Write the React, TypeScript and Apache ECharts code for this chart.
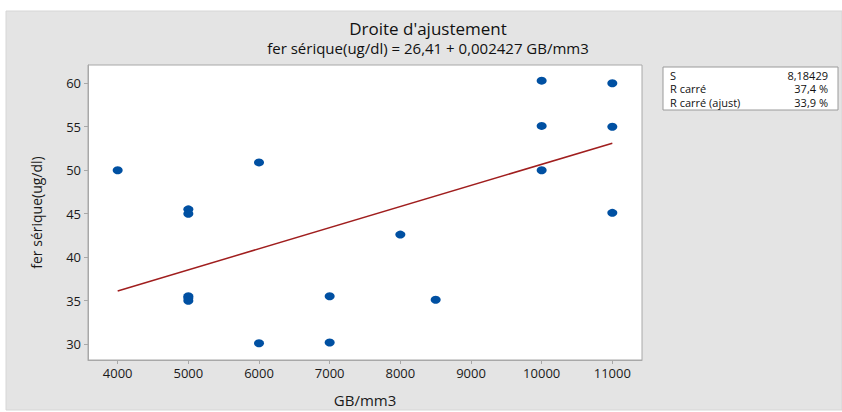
import React, { useEffect, useRef } from "react";
import * as echarts from "echarts";

const gbValues = [4000, 5000, 5000, 5000, 5000, 5000, 6000, 6000, 7000, 7000, 8000, 8500, 10000, 10000, 10000, 11000, 11000, 11000];
const ferValues = [50.0, 45.5, 45.0, 35.5, 35.3, 35.0, 50.9, 30.1, 35.5, 30.2, 42.6, 35.1, 60.3, 55.1, 50.0, 60.0, 55.0, 45.1];
const xTicks = [4000, 5000, 6000, 7000, 8000, 9000, 10000, 11000];
const yTicks = [30, 35, 40, 45, 50, 55, 60];
const intercept = 26.41;
const slope = 0.002427;
const fitRangeX = [4000, 11000];
const statLabels = ["S", "R carré", "R carré (ajust)"];
const statValues = ["8,18429", "37,4 %", "33,9 %"];
const titleText = "Droite d'ajustement";
const subtitleText = "fer sérique(ug/dl) = 26,41 + 0,002427 GB/mm3";

const FONT = "'Open Sans', 'Noto Sans', sans-serif";

export default function App() {
  const ref = useRef<HTMLDivElement>(null);
  useEffect(() => {
    if (!ref.current) return;
    const chart = echarts.init(ref.current, undefined, { renderer: "svg" });
    const points = gbValues.map((x, i) => [x, ferValues[i]]);
    const fitLine = fitRangeX.map((x) => [x, intercept + slope * x]);
    const statTexts: any[] = [];
    statLabels.forEach((l, i) => {
      statTexts.push({
        type: "text",
        x: 670,
        y: 75 + i * 13.5,
        style: { text: l, fontFamily: FONT, fontSize: 11, lineHeight: 12, fill: "#111", verticalAlign: "middle", align: "left" },
        z: 20,
      });
      statTexts.push({
        type: "text",
        x: 828,
        y: 75 + i * 13.5,
        style: { text: statValues[i], fontFamily: FONT, fontSize: 11, lineHeight: 12, fill: "#111", verticalAlign: "middle", align: "right" },
        z: 20,
      });
    });
    chart.setOption({
      animation: false,
      textStyle: { fontFamily: FONT },
      graphic: [
        { type: "rect", shape: { x: 6, y: 11, width: 836, height: 399 }, style: { fill: "#e4e4e4", stroke: "#d6d6d6", lineWidth: 1 }, z: -10, silent: true },
        { type: "text", x: 428, y: 28.5, style: { text: titleText, fontFamily: FONT, fontSize: 17, lineHeight: 17, fontWeight: 500, fill: "#111", align: "center", verticalAlign: "middle" }, z: 20 },
        { type: "text", x: 428, y: 48, style: { text: subtitleText, fontFamily: FONT, fontSize: 15, lineHeight: 15, fill: "#111", align: "center", verticalAlign: "middle" }, z: 20 },
        { type: "rect", shape: { x: 663, y: 67, width: 175, height: 43 }, style: { fill: "#fff", stroke: "#9a9a9a", lineWidth: 1 }, z: 10 },
        ...statTexts,
      ],
      grid: {
        left: 88,
        right: 200,
        top: 65,
        bottom: 49,
        containLabel: false,
        show: true,
        backgroundColor: "#ffffff",
        borderColor: "#a8a8a8",
        borderWidth: 1,
      },
      xAxis: {
        type: "value",
        min: 3580,
        max: 11420,
        name: "GB/mm3",
        nameLocation: "middle",
        nameGap: 32,
        nameTextStyle: { fontSize: 15, color: "#1a1a1a", fontFamily: FONT },
        axisLine: { show: true, lineStyle: { color: "#a8a8a8" } },
        axisTick: { show: true, length: 4, lineStyle: { color: "#a8a8a8" }, customValues: xTicks },
        axisLabel: { customValues: xTicks, fontSize: 13, color: "#1a1a1a", margin: 6, fontFamily: FONT, formatter: (v: number) => String(v) },
        splitLine: { show: false },
      },
      yAxis: {
        type: "value",
        min: 28.18,
        max: 62.1,
        name: "fer sérique(ug/dl)",
        nameLocation: "middle",
        nameRotate: 90,
        nameGap: 45,
        nameTextStyle: { fontSize: 14, color: "#1a1a1a", fontFamily: FONT },
        axisLine: { show: true, lineStyle: { color: "#a8a8a8" } },
        axisTick: { show: true, length: 4, lineStyle: { color: "#a8a8a8" }, customValues: yTicks },
        axisLabel: { customValues: yTicks, fontSize: 13, color: "#1a1a1a", margin: 7, fontFamily: FONT, formatter: (v: number) => String(v) },
        splitLine: { show: false },
      },
      series: [
        {
          type: "line",
          data: fitLine,
          showSymbol: false,
          lineStyle: { color: "#a01e1e", width: 1.5 },
          z: 3,
        },
        {
          type: "scatter",
          data: points,
          symbol: "circle",
          symbolSize: [10, 8],
          itemStyle: { color: "#0050a2", opacity: 1 },
          z: 4,
        },
      ],
    });
    return () => chart.dispose();
  }, []);
  return <div ref={ref} style={{ position: "fixed", left: 0, top: 0, width: 842, height: 412, background: "#fff" }} />;
}
